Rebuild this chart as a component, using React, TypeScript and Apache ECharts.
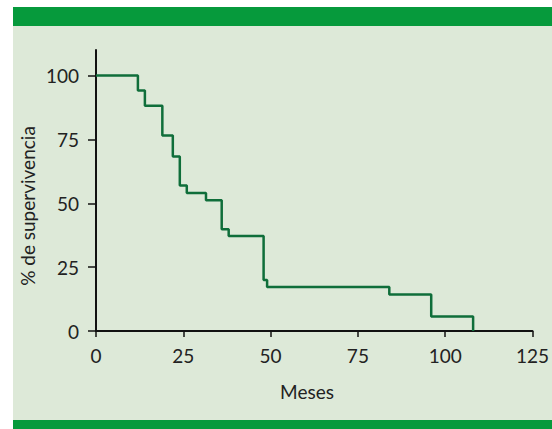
import React, { useEffect, useRef } from "react";
import * as echarts from "echarts";

const months = [0, 12, 14, 19, 22, 24, 26, 31.5, 36, 38, 48, 49, 84, 96, 108];
const survival = [100, 94.1, 88.2, 76.5, 68.3, 57, 54, 51.2, 39.8, 37.2, 20, 17.2, 14.3, 5.7, 0];
const xTicks = [0, 25, 50, 75, 100, 125];
const yTicks = [0, 25, 50, 75, 100];

const FONT = "Lato, 'Open Sans', sans-serif";

export default function App() {
  const ref = useRef<HTMLDivElement>(null);
  useEffect(() => {
    const chart = echarts.init(ref.current!, null, { renderer: "svg" });
    chart.setOption({
      animation: false,
      backgroundColor: "#ffffff",
      grid: { left: 96, right: 17, top: 50, bottom: 98, containLabel: false },
      graphic: [
        { type: "rect", z: -10, silent: true, shape: { x: 13, y: 7, width: 539, height: 422 }, style: { fill: "#dde9d8" } },
        { type: "rect", z: -9, silent: true, shape: { x: 13, y: 7, width: 539, height: 19 }, style: { fill: "#069a3c" } },
        { type: "rect", z: -9, silent: true, shape: { x: 13, y: 420, width: 539, height: 9 }, style: { fill: "#069a3c" } },
        {
          type: "text",
          x: 27,
          y: 206,
          rotation: Math.PI / 2,
          style: { text: "% de supervivencia", font: `19px ${FONT}`, fill: "#222", align: "center", verticalAlign: "middle" },
        },
        {
          type: "text",
          x: 307,
          y: 391,
          style: { text: "Meses", font: `19px ${FONT}`, fill: "#222", align: "center", verticalAlign: "middle" },
        },
      ],
      xAxis: {
        type: "value",
        min: 0,
        max: 125,
        interval: 25,
        splitLine: { show: false },
        axisLine: { show: true, onZero: false, lineStyle: { color: "#111", width: 2 } },
        axisTick: { show: true, length: 6, customValues: xTicks, lineStyle: { color: "#111", width: 1.5 } },
        axisLabel: { customValues: xTicks, color: "#222", fontSize: 19, fontFamily: FONT, margin: 15 },
      },
      yAxis: {
        type: "value",
        min: 0,
        max: 110,
        splitLine: { show: false },
        axisLine: { show: true, onZero: false, lineStyle: { color: "#111", width: 2 } },
        axisTick: { show: true, length: 8, customValues: yTicks, lineStyle: { color: "#111", width: 1.5 } },
        axisLabel: { customValues: yTicks, color: "#222", fontSize: 19, fontFamily: FONT, margin: 17 },
      },
      series: [
        {
          type: "line",
          step: "end",
          data: months.map((m, i) => [m, survival[i]]),
          showSymbol: false,
          symbol: "none",
          lineStyle: { color: "#0f6e3a", width: 2.5 },
        },
      ],
    });
    return () => chart.dispose();
  }, []);
  return <div ref={ref} style={{ position: "absolute", left: 0, top: 0, width: 552, height: 429 }} />;
}
